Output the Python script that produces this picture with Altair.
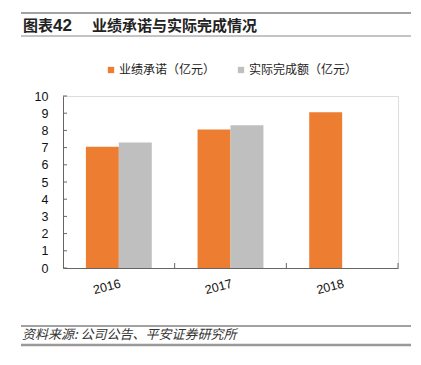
import altair as alt
import pandas as pd

years = ["2016", "2017", "2018"]
promised = [7.05, 8.05, 9.05]
actual_years = ["2016", "2017"]
actual = [7.3, 8.3]
series = ["业绩承诺（亿元）", "实际完成额（亿元）"]
colors = ["#ED7D31", "#BFBFBF"]
y_ticks = list(range(0, 11))
x_boundaries = [1, 2, 3]

rows = [{"year": y, "series": series[0], "value": v} for y, v in zip(years, promised)]
rows += [{"year": y, "series": series[1], "value": v} for y, v in zip(actual_years, actual)]
df = pd.DataFrame(rows)
tick_df = pd.DataFrame({"t": y_ticks})
bnd_df = pd.DataFrame({"b": x_boundaries})
one = pd.DataFrame({"a": [0]})

W, H = 335, 172
NUM_FONT = "Liberation Sans"
CJK = "Noto Sans CJK SC"

xscale = alt.Scale(domain=years, paddingInner=0.41, paddingOuter=0.205)
yscale = alt.Scale(domain=[0, 10], nice=False)

bars = alt.Chart(df).mark_bar().encode(
    x=alt.X("year:N", scale=xscale, sort=years, title=None,
            axis=alt.Axis(ticks=False, domain=True, domainColor="#666",
                          labelAngle=-15, labelAlign="right", labelBaseline="top",
                          labelPadding=9, labelFont=NUM_FONT, labelFontSize=12.5,
                          labelColor="#111")),
    xOffset=alt.XOffset("series:N", sort=series,
                        scale=alt.Scale(domain=series, paddingInner=0, paddingOuter=0)),
    y=alt.Y("value:Q", scale=yscale, title=None,
            axis=alt.Axis(values=y_ticks, ticks=False, domain=True,
                          domainColor="#666", grid=False, labelPadding=15,
                          labelFont=NUM_FONT, labelOverlap=False, labelFlush=False,
                          labelFontSize=12.5, labelColor="#111")),
    color=alt.Color("series:N", sort=series,
                    scale=alt.Scale(domain=series, range=colors),
                    legend=alt.Legend(title=None, orient="none", legendX=42, legendY=-32,
                                      direction="horizontal", symbolType="square",
                                      symbolSize=40, symbolStrokeWidth=0,
                                      labelFont=CJK, labelFontSize=12, labelColor="#222",
                                      labelOffset=2, columnPadding=19)),
)

xticks = alt.Chart(bnd_df).mark_rule(color="#666", strokeWidth=1).encode(
    x=alt.X("b:Q", scale=alt.Scale(domain=[0, 3], nice=False, zero=False), axis=None),
    y=alt.value(H - 5), y2=alt.value(H),
)

yticks = alt.Chart(tick_df).mark_rule(color="#666").encode(
    y=alt.Y("t:Q", scale=yscale, axis=None),
    x=alt.value(0), x2=alt.value(4),
)

def rule(y, color, width):
    return alt.Chart(one).mark_rule(color=color, strokeWidth=width).encode(
        x=alt.value(-42), x2=alt.value(348), y=alt.value(y))

def text(t, x, y, size, weight="normal", style="normal", color="#222", font=CJK):
    return alt.Chart(one).mark_text(text=t, align="left", baseline="middle",
                                    font=font, fontSize=size, fontWeight=weight,
                                    fontStyle=style, color=color).encode(
        x=alt.value(x), y=alt.value(y))

anno = [
    rule(-83, "#444", 1),
    rule(-60, "#888", 1),
    text("图表", -40, -70, 15, "bold", color="#222"),
    text("42", -10, -70, 17, "bold", color="#222", font=NUM_FONT),
    text("业绩承诺与实际完成情况", 29, -70, 15, "bold", color="#222"),
    rule(230, "#444", 1),
    text("资料来源: 公司公告、平安证券研究所", -41, 239, 13, style="italic", color="#333"),
    rule(249, "#999", 2.5),
]

chart = alt.layer(bars, xticks, yticks, *anno).resolve_scale(
    x="independent").resolve_axis(y="independent").properties(
    width=W, height=H,
    autosize=alt.AutoSizeParams(type="none"),
    padding={"left": 55, "top": 88, "right": 15, "bottom": 89},
).configure_view(stroke=None).configure(background="white")

chart.save("out.html", embed_options={"renderer": "svg", "actions": False})
